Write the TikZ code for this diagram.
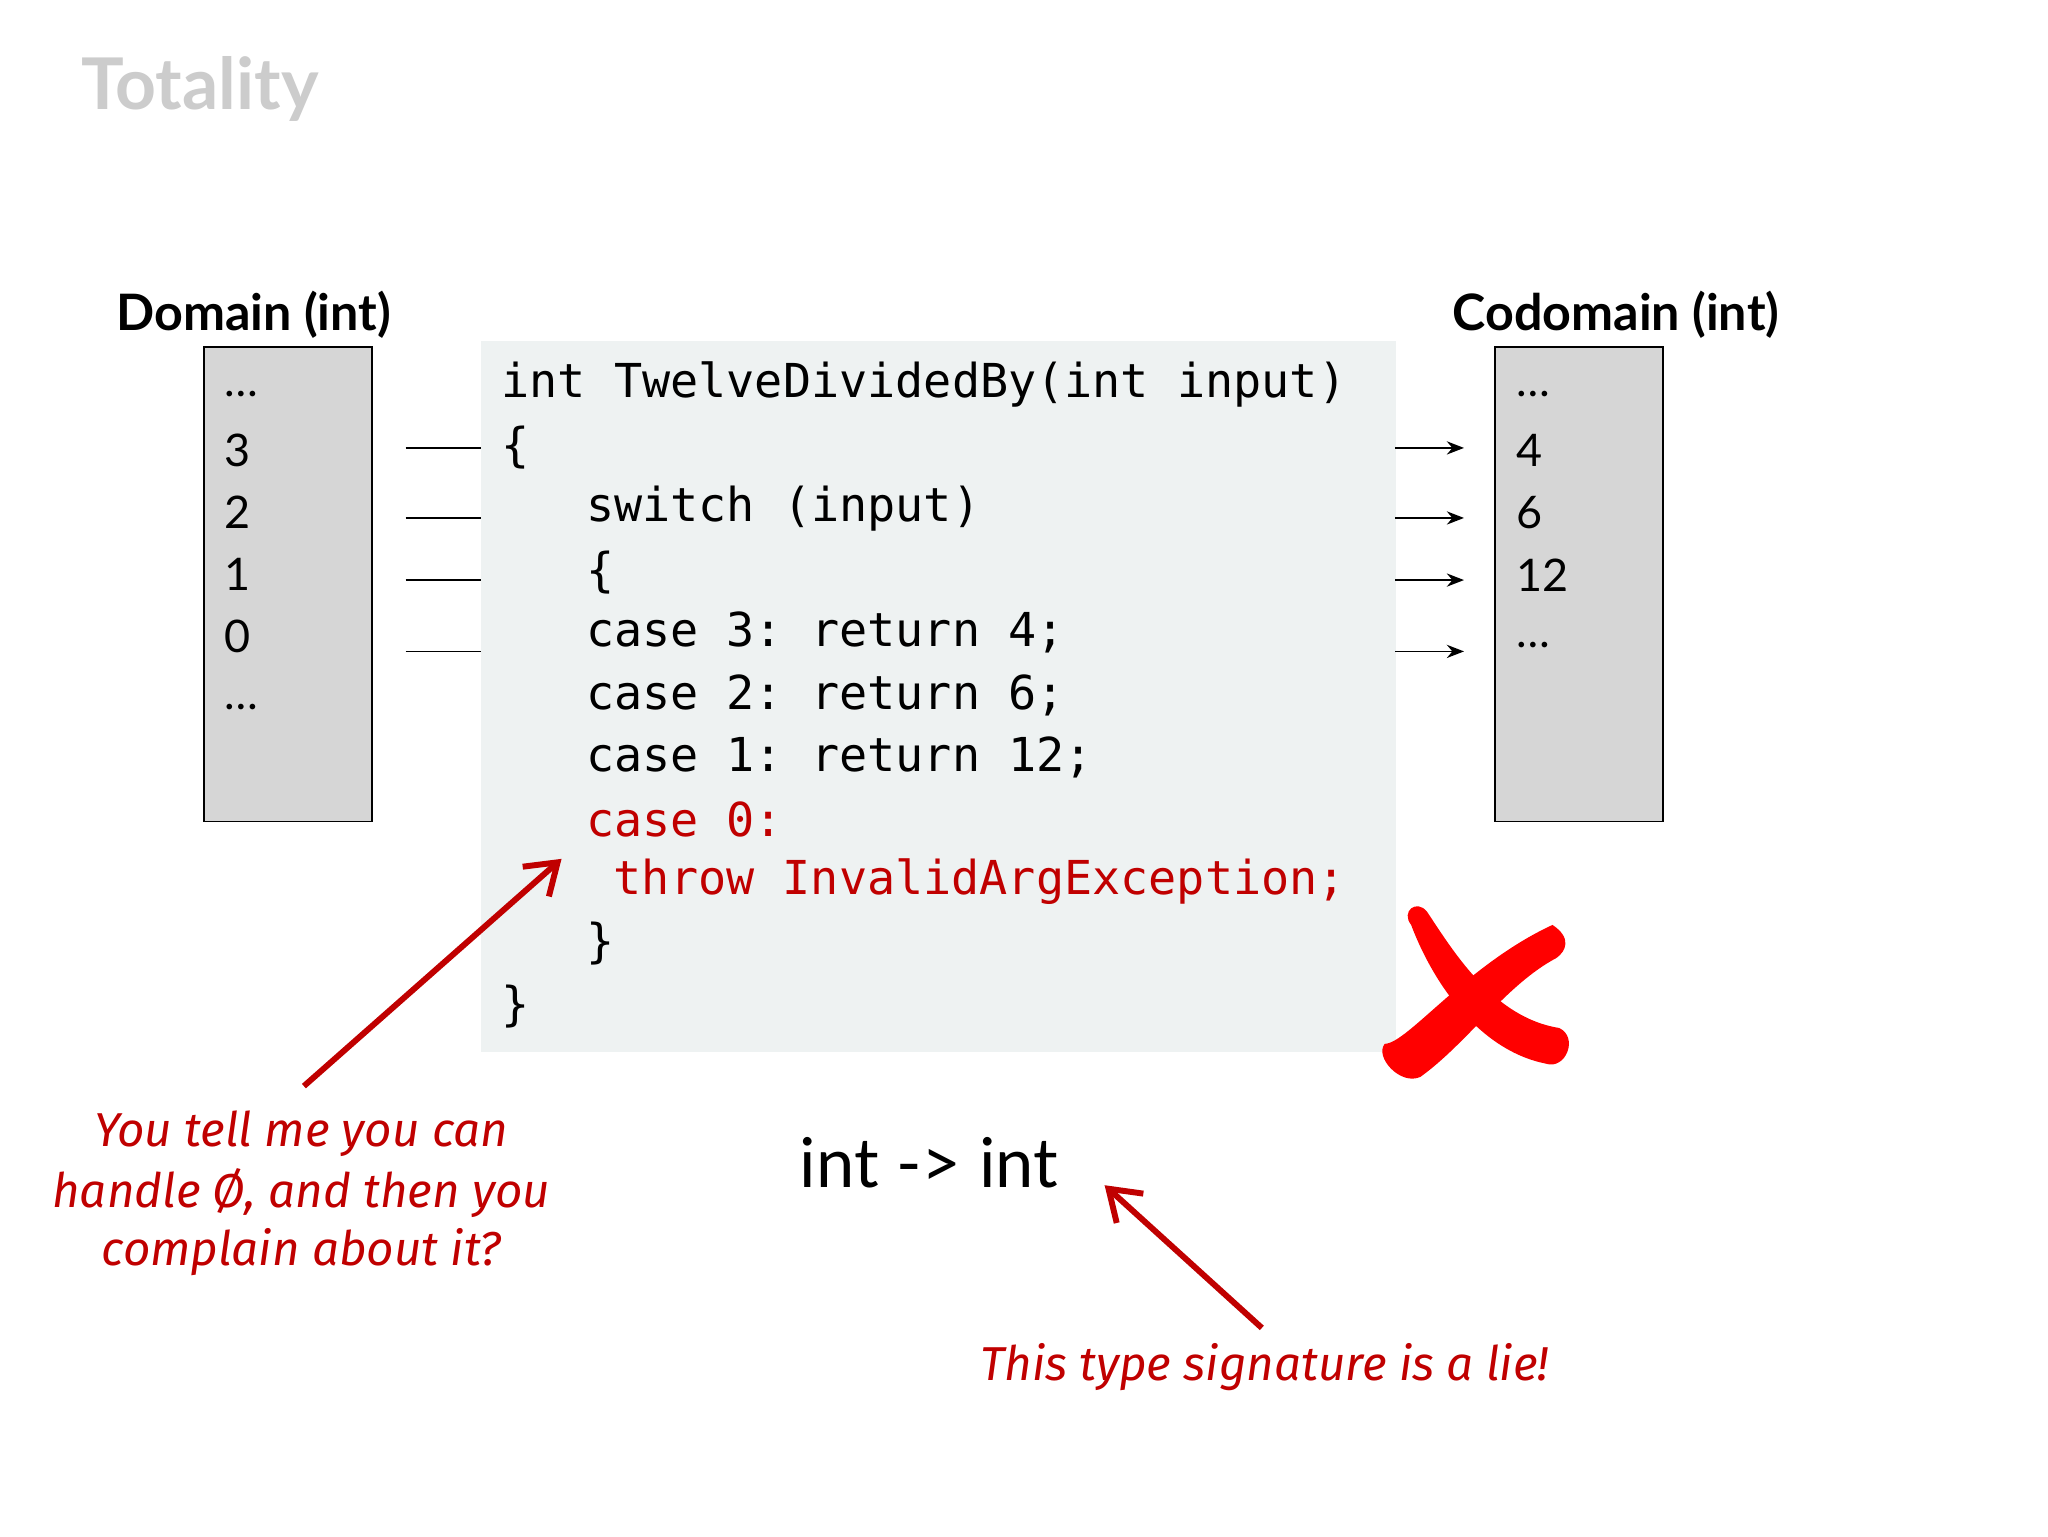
\documentclass[tikz,border=0pt]{standalone}
\usepackage{fontspec}
\setmainfont{Lato}
\newfontfamily\codefont{DejaVu Sans Mono}
\newfontfamily\handfont{Fira Sans}
\usetikzlibrary{arrows.meta}
\definecolor{redc}{HTML}{C00000}
\definecolor{codebg}{HTML}{EEF2F2}
\frenchspacing
\begin{document}
\begin{tikzpicture}[x=1pt,y=-1pt,
  box/.style={draw=black,fill=black!16,line width=1.2pt},
  num/.style={anchor=west,font=\fontsize{34}{34}\selectfont},
  code/.style={anchor=west,font=\codefont\fontsize{35.4}{35.4}\selectfont},
  redcode/.style={code,text=redc},
  hand/.style={text=redc,font=\handfont\itshape\fontsize{36}{36}\selectfont},
  head/.style={font=\bfseries\fontsize{38}{38}\selectfont},
  conn/.style={line width=1.3pt},
  arr/.style={conn,-{Stealth[length=13pt,width=10pt]}},
  redarr/.style={redc,line width=4.5pt,-{Straight Barb[length=22pt,width=30pt,line width=4.5pt]}}]
\useasboundingbox[fill=white] (0,0) rectangle (1550,1163);
\node[anchor=west,text=black!20,font=\bfseries\fontsize{54}{54}\selectfont] (title) at (58,67) {Totality};
\node[head] (dom) at (192,238) {Domain (int)};
\node[head] (cod) at (1223,238) {Codomain (int)};
\node[box,minimum width=127pt,minimum height=359pt,anchor=north west] (dbox) at (154,262) {};
\node[box,minimum width=127pt,minimum height=359pt,anchor=north west] (cbox) at (1131,262) {};
\node[fill=codebg,minimum width=692pt,minimum height=538pt,anchor=north west] (cbg) at (364,258) {};
\node[num] (d0) at (166,298) {\dots};
\node[num] (d1) at (166,341) {3};
\node[num] (d2) at (166,388) {2};
\node[num] (d3) at (166,435) {1};
\node[num] (d4) at (166,482) {0};
\node[num] (d5) at (166,535) {\dots};
\node[num] (c0) at (1144,298) {\dots};
\node[num] (c1) at (1144,341) {4};
\node[num] (c2) at (1144,388) {6};
\node[num] (c3) at (1144,435) {12};
\node[num] (c4) at (1144,488) {\dots};
\foreach \y/\n in {339/a,392/b,439/c,493/d}{
  \coordinate (l\n) at (307,\y); \coordinate (m\n) at (364,\y);
  \coordinate (r\n) at (1056,\y); \coordinate (s\n) at (1108,\y);
  \draw[conn] (l\n) -- (m\n);
  \draw[arr] (r\n) -- (s\n);
}
\node[code] (k1) at (376,291) {int TwelveDividedBy(int input)};
\node[code] (k2) at (376,339) {\{};
\node[code] (k3) at (440,385) {switch (input)};
\node[code] (k4) at (440,433) {\{};
\node[code] (k5) at (440,479) {case 3: return 4;};
\node[code] (k6) at (440,526) {case 2: return 6;};
\node[code] (k7) at (440,573) {case 1: return 12;};
\node[redcode] (k8) at (440,620) {case 0:};
\node[redcode] (k9) at (461,667) {throw InvalidArgException;};
\node[code] (k10) at (440,714) {\}};
\node[code] (k11) at (376,762) {\}};
\node[font=\fontsize{52}{52}\selectfont] (sig) at (703,880) {int -> int};
\node[hand,align=center] (h1) at (228,903) {You tell me you can\\[8pt]handle Ø, and then you\\[8pt]complain about it?};
\node[hand] (h2) at (957,1035) {This type signature is a lie!};
\coordinate (a1s) at (230,822); \coordinate (a1e) at (425,650);
\coordinate (a2s) at (955,1005); \coordinate (a2e) at (836,897);
\draw[redarr] (a1s) -- (a1e);
\draw[redarr] (a2s) -- (a2e);
% red X
\fill[red] (1068,700) .. controls (1060,690) and (1072,680) .. (1080,690)
  .. controls (1100,720) and (1130,770) .. (1180,778)
  .. controls (1195,785) and (1185,810) .. (1170,805)
  .. controls (1120,795) and (1085,745) .. (1068,700) -- cycle;
\fill[red] (1175,700) .. controls (1190,710) and (1185,720) .. (1178,725)
  .. controls (1140,745) and (1110,790) .. (1075,815)
  .. controls (1060,822) and (1040,800) .. (1048,790)
  .. controls (1065,790) and (1110,730) .. (1175,700) -- cycle;
\end{tikzpicture}
\end{document}
